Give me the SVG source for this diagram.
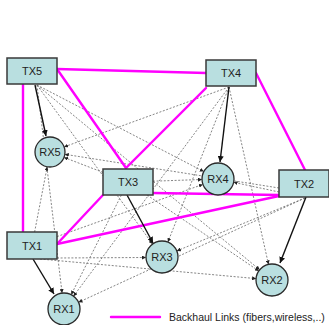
<svg xmlns="http://www.w3.org/2000/svg" width="329" height="325" viewBox="0 0 329 325">
  <style>
    .tx rect { fill: #b9dfe0; stroke: #3a3a3a; stroke-width: 1.5; }
    .rx circle { fill: #b9dfe0; stroke: #2a2a2a; stroke-width: 1.3; }
    .lbl { font-family: "Liberation Sans", Arial, sans-serif; font-size: 11px; fill: #222; text-anchor: middle; dominant-baseline: central; }
    .intf { stroke: #666; stroke-width: 0.8; stroke-dasharray: 2 1.6; fill: none; marker-end: url(#small); }
    .sig { stroke: #111; stroke-width: 1.4; fill: none; marker-end: url(#big); }
    .bh { stroke: #ff00ff; stroke-width: 2.4; fill: none; stroke-linecap: round; }
    .legend { font-family: "Liberation Sans", Arial, sans-serif; font-size: 10.5px; fill: #222; }
  </style>
  <defs>
    <marker id="small" viewBox="0 0 6 6" refX="6" refY="3" markerWidth="4" markerHeight="4" markerUnits="userSpaceOnUse" orient="auto">
      <path d="M0,0 L6,3 L0,6 z" fill="#222"/>
    </marker>
    <marker id="big" viewBox="0 0 8 8" refX="8" refY="4" markerWidth="6" markerHeight="6" markerUnits="userSpaceOnUse" orient="auto">
      <path d="M0,0 L8,4 L0,8 z" fill="#111"/>
    </marker>
  </defs>

  <!-- interference paths (dashed) -->
  <g id="interference">
    <line class="intf" x1="37" y1="85" x2="203.8" y2="171.6"/>
    <line class="intf" x1="37" y1="85" x2="152.6" y2="244.1"/>
    <line class="intf" x1="37" y1="85" x2="259.7" y2="269.8"/>
    <line class="intf" x1="37" y1="85" x2="62.1" y2="293.1"/>

    <line class="intf" x1="229" y1="87" x2="64.1" y2="146.9"/>
    <line class="intf" x1="229" y1="87" x2="167.9" y2="242.1"/>
    <line class="intf" x1="229" y1="87" x2="268.5" y2="264.4"/>
    <line class="intf" x1="229" y1="87" x2="73.5" y2="296.2"/>

    <line class="intf" x1="103" y1="172.4" x2="64" y2="157.4"/>
    <line class="intf" x1="153" y1="181.2" x2="202" y2="179.5"/>
    <line class="intf" x1="147.1" y1="195" x2="258.8" y2="271"/>
    <line class="intf" x1="121.4" y1="195" x2="71.2" y2="294.7"/>

    <line class="intf" x1="34.6" y1="232" x2="47.2" y2="166.7"/>
    <line class="intf" x1="57" y1="236.6" x2="202.9" y2="184.4"/>
    <line class="intf" x1="57" y1="258" x2="146" y2="257.5"/>
    <line class="intf" x1="40" y1="259" x2="256.1" y2="278.6"/>

    <line class="intf" x1="279" y1="192" x2="233.6" y2="182.3"/>
    <line class="intf" x1="279" y1="188" x2="64.8" y2="154.3"/>
    <line class="intf" x1="305" y1="198" x2="176.8" y2="250.9"/>
    <line class="intf" x1="305" y1="198" x2="78.5" y2="302.3"/>
  </g>

  <!-- backhaul links -->
  <g id="backhaul">
    <line class="bh" x1="57" y1="69" x2="206" y2="73"/>
    <line class="bh" x1="57" y1="69" x2="126" y2="168"/>
    <line class="bh" x1="206" y1="88" x2="126" y2="168"/>
    <line class="bh" x1="256" y1="73" x2="305" y2="170"/>
    <line class="bh" x1="23" y1="84" x2="23" y2="232"/>
    <line class="bh" x1="103" y1="195" x2="57" y2="244"/>
    <line class="bh" x1="57" y1="244" x2="279" y2="196"/>
    <line class="bh" x1="153" y1="193" x2="279" y2="195"/>
  </g>

  <!-- serving links (solid) -->
  <g id="serving">
    <line class="sig" x1="35" y1="85" x2="46" y2="136"/>
    <line class="sig" x1="229" y1="87" x2="220" y2="162"/>
    <line class="sig" x1="127" y1="195" x2="153" y2="243"/>
    <line class="sig" x1="33" y1="259" x2="54" y2="294"/>
    <line class="sig" x1="306" y1="197" x2="280" y2="263"/>
  </g>

  <!-- transmitters -->
  <g id="TX5" class="tx"><rect x="7" y="58" width="50" height="26"/><text class="lbl" x="32" y="71">TX5</text></g>
  <g id="TX4" class="tx"><rect x="206" y="60" width="50" height="26"/><text class="lbl" x="231" y="73">TX4</text></g>
  <g id="TX3" class="tx"><rect x="103" y="169" width="50" height="26"/><text class="lbl" x="128" y="182">TX3</text></g>
  <g id="TX1" class="tx"><rect x="7" y="232" width="50" height="27"/><text class="lbl" x="32" y="245.5">TX1</text></g>
  <g id="TX2" class="tx"><rect x="279" y="170" width="50" height="27"/><text class="lbl" x="304" y="183.5">TX2</text></g>

  <!-- receivers -->
  <g id="RX5" class="rx"><circle cx="50" cy="152" r="15"/><text class="lbl" x="50" y="152">RX5</text></g>
  <g id="RX4" class="rx"><circle cx="218" cy="179" r="16"/><text class="lbl" x="218" y="179">RX4</text></g>
  <g id="RX3" class="rx"><circle cx="162" cy="257" r="16"/><text class="lbl" x="162" y="257">RX3</text></g>
  <g id="RX2" class="rx"><circle cx="272" cy="280" r="16"/><text class="lbl" x="272" y="280">RX2</text></g>
  <g id="RX1" class="rx"><circle cx="64" cy="309" r="16"/><text class="lbl" x="64" y="309">RX1</text></g>

  <!-- legend -->
  <g id="legend">
    <line class="bh" x1="111" y1="317" x2="160" y2="317"/>
    <text class="legend" x="169" y="321">Backhaul Links (fibers,wireless,..)</text>
  </g>
</svg>
